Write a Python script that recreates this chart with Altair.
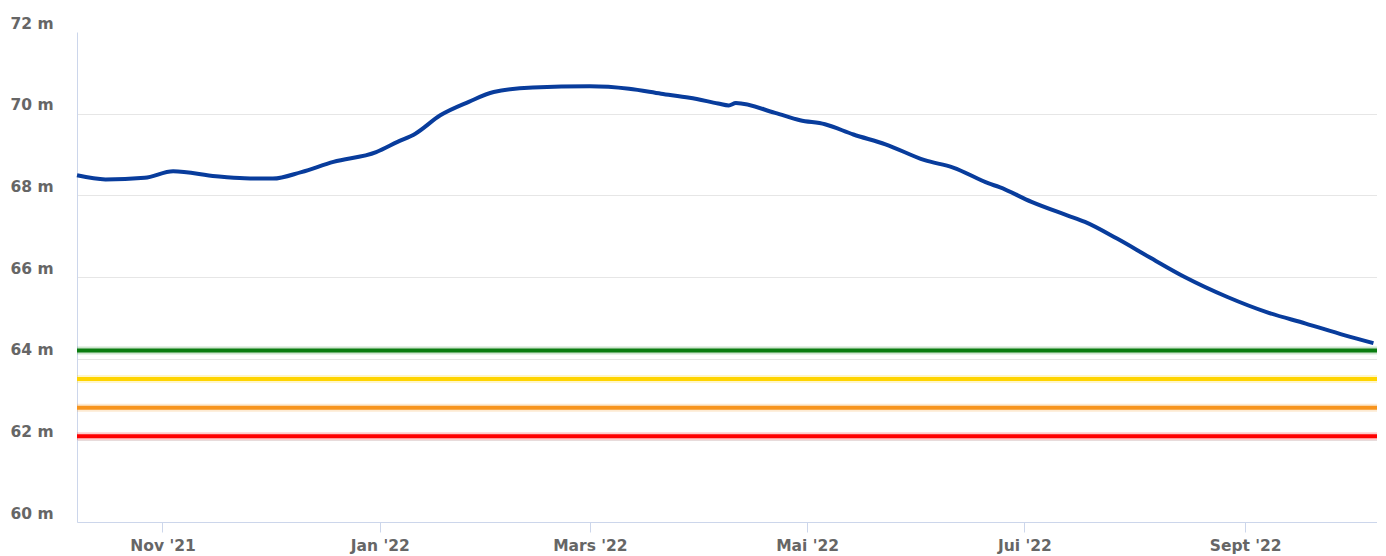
import json
import altair as alt
import pandas as pd

# ---- data ----
level_dates = [
    "2021-10-08", "2021-10-16", "2021-10-27", "2021-11-04", "2021-11-16", "2021-11-24",
    "2021-12-02", "2021-12-10", "2021-12-19", "2021-12-31", "2022-01-06", "2022-01-11",
    "2022-01-18", "2022-01-26", "2022-02-02", "2022-02-13", "2022-03-01", "2022-03-12",
    "2022-03-21", "2022-03-29", "2022-04-06", "2022-04-09", "2022-04-11", "2022-04-22",
    "2022-04-29", "2022-05-06", "2022-05-14", "2022-05-23", "2022-06-03", "2022-06-11",
    "2022-06-21", "2022-06-24", "2022-07-03", "2022-07-13", "2022-07-18", "2022-07-27",
    "2022-08-05", "2022-08-15", "2022-08-27", "2022-09-07", "2022-09-18", "2022-09-29",
    "2022-10-07",
]
level_values = [
    68.49, 68.39, 68.43, 68.59, 68.47, 68.42,
    68.41, 68.57, 68.82, 69.06, 69.31, 69.51,
    69.96, 70.29, 70.53, 70.64, 70.67, 70.61,
    70.49, 70.39, 70.25, 70.20, 70.26, 70.02,
    69.84, 69.74, 69.49, 69.25, 68.86, 68.68,
    68.29, 68.20, 67.84, 67.51, 67.35, 66.94,
    66.49, 66.00, 65.51, 65.14, 64.86, 64.57,
    64.38,
]
threshold_names = ["Vigilance", "Alerte", "Alerte renforcée", "Crise"]
threshold_values = [64.2, 63.5, 62.8, 62.1]
threshold_colors = ["#0a7d10", "#ffd400", "#f7941d", "#ff0000"]

y_ticks = [60, 62, 64, 66, 68, 70, 72]
x_tick_dates = ["2021-11-01", "2022-01-01", "2022-03-01", "2022-05-01", "2022-07-01", "2022-09-01"]
x_tick_labels = ["Nov '21", "Jan '22", "Mars '22", "Mai '22", "Jui '22", "Sept '22"]
x_domain = ["2021-10-08", "2022-10-08"]


def ms(s):
    return int(pd.Timestamp(s, tz="UTC").value // 10**6)


level_df = pd.DataFrame({"date": level_dates, "value": level_values})
thr_df = pd.DataFrame({"name": threshold_names, "value": threshold_values})

label_expr = "".join(
    f"utcFormat(datum.value, '%Y-%m-%d') == '{d}' ? {json.dumps(l)} : "
    for d, l in zip(x_tick_dates, x_tick_labels)
) + "''"

FONT = "DejaVu Sans"
LABEL_COLOR = "#666666"
AXIS_COLOR = "#ccd6eb"

x_scale = alt.Scale(type="utc", domain=[ms(d) for d in x_domain])
y_scale = alt.Scale(domain=[60, 72], nice=False, zero=False)

x_axis = alt.Axis(
    values=[ms(d) for d in x_tick_dates], labelExpr=label_expr, title=None, grid=False,
    domainColor=AXIS_COLOR, tickColor=AXIS_COLOR, tickSize=10, labelPadding=6,
    labelFont=FONT, labelFontWeight="bold", labelFontSize=15.5, labelColor=LABEL_COLOR,
    labelAngle=0, labelFlush=False,
)
y_axis = alt.Axis(
    values=y_ticks, labelExpr="datum.value + ' m'", title=None, ticks=False,
    labelAlign="left", labelPadding=67, labelBaseline="alphabetic", labelOffset=-4,
    gridColor={"condition": {"test": "datum.value == 72", "value": "transparent"}, "value": "#e6e6e6"},
    gridWidth=1, domainColor=AXIS_COLOR,
    labelFont=FONT, labelFontWeight="bold", labelFontSize=15.5, labelColor=LABEL_COLOR,
)

y_enc = alt.Y("value:Q", scale=y_scale, axis=y_axis)
color_enc = alt.Color("name:N", scale=alt.Scale(domain=threshold_names, range=threshold_colors), legend=None)

halo = alt.Chart(thr_df).mark_rule(strokeWidth=8, opacity=0.2).encode(y=y_enc, color=color_enc)
rules = alt.Chart(thr_df).mark_rule(strokeWidth=4).encode(y=y_enc, color=color_enc)

line = alt.Chart(level_df).mark_line(color="#083c9c", strokeWidth=4, interpolate="monotone").encode(
    x=alt.X("date:T", scale=x_scale, axis=x_axis),
    y=y_enc,
)

chart = (
    alt.layer(halo, rules, line)
    .properties(
        width=1300, height=490,
        autosize=alt.AutoSizeParams(type="none"),
        padding={"left": 69, "top": 24, "right": 0, "bottom": 34},
        background="white",
    )
    .configure_view(stroke=None)
)

chart.save("out.html", embed_options={"renderer": "svg", "actions": False})
